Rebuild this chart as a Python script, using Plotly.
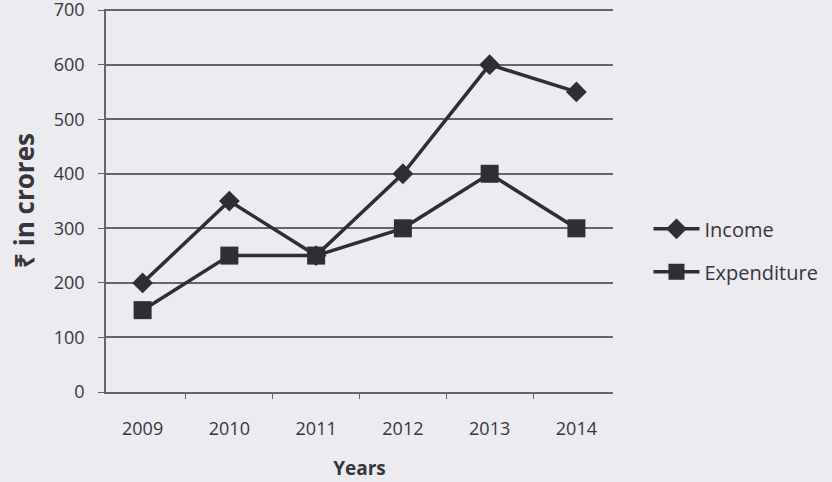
import plotly.graph_objects as go

years = ["2009", "2010", "2011", "2012", "2013", "2014"]
income = [200, 350, 250, 400, 600, 550]
expenditure = [150, 250, 250, 300, 400, 300]

ink = "#2e2e33"
fig = go.Figure()
fig.add_trace(go.Scatter(x=years, y=income, name="Income", mode="lines+markers",
                         legendgroup="inc",
                         line=dict(color=ink, width=3.5),
                         marker=dict(symbol="diamond", size=16, color=ink)))
fig.add_trace(go.Scatter(x=years, y=expenditure, name="Expenditure", mode="lines+markers",
                         legendgroup="exp",
                         line=dict(color=ink, width=3.5),
                         marker=dict(symbol="square", size=18, color=ink)))

fig.update_layout(
    width=832, height=482,
    margin=dict(l=106, r=216, t=9, b=90),
    paper_bgcolor="#ebebf0", plot_bgcolor="#ebebf0",
    font=dict(family="Open Sans", size=18, color="#36363c"),
    showlegend=True,
    legend=dict(x=1.07, y=0.37, xanchor="left", yanchor="middle",
                bgcolor="rgba(0,0,0,0)", font=dict(size=20, color="#36363c"),
                itemwidth=46, tracegroupgap=14),
    xaxis=dict(type="category", tickson="boundaries", ticks="outside", ticklen=5,
               tickcolor="#666", showgrid=False, showline=True, linecolor="#666",
               linewidth=1.5, tickfont=dict(size=18), ticklabelstandoff=20,
               automargin=False,
               title=dict(text="<b>Years</b>", font=dict(size=19), standoff=22)),
    yaxis=dict(range=[0, 702], tickvals=[0, 100, 200, 300, 400, 500, 600, 700],
               ticks="outside", ticklen=6, tickcolor="#666", ticklabeloverflow="allow",
               automargin=False,
               showgrid=True, gridcolor="#666", gridwidth=1.5, showline=True,
               linecolor="#666", linewidth=1.5, zeroline=False, tickfont=dict(size=18),
               ticklabelstandoff=10,
               title=dict(text="<b>₹ in crores</b>", font=dict(size=26), standoff=12)),
)
fig.write_html("out.html", config={"displayModeBar": False},
               post_script="document.body.style.margin='0';document.body.style.padding='0';")
